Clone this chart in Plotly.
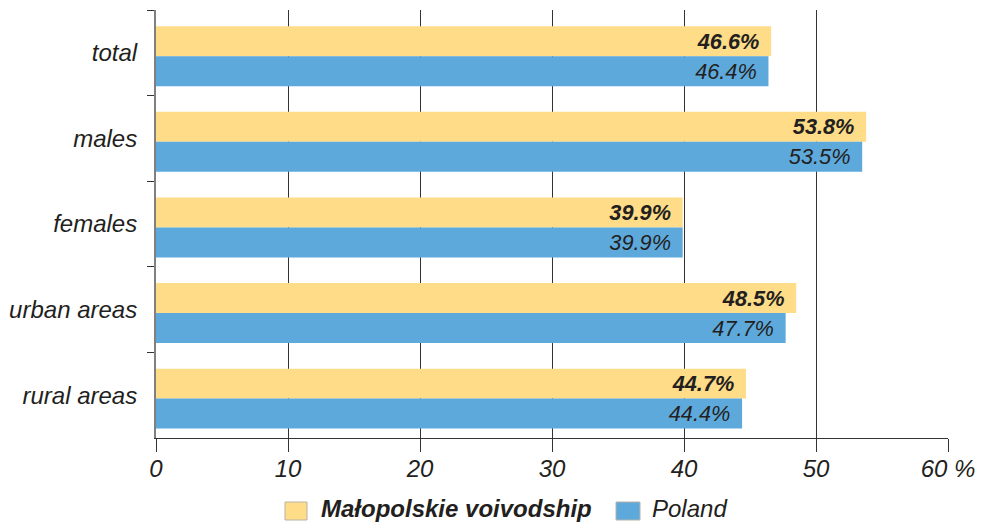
import plotly.graph_objects as go

categories = ["total", "males", "females", "urban areas", "rural areas"]
malopolskie = [46.6, 53.8, 39.9, 48.5, 44.7]
poland = [46.4, 53.5, 39.9, 47.7, 44.4]
x_ticks = [0, 10, 20, 30, 40, 50, 60]
x_ticklabels = ["0", "10", "20", "30", "40", "50", "60 %"]
series_names = ["Małopolskie voivodship", "Poland"]

FONT = "Liberation Sans, Arial, Helvetica, sans-serif"
YELLOW = "#FEDC88"
BLUE = "#5DA9DC"
TXT = "#231F20"
PAD = "\u2009\u2009"

# plot area in pixels (for legend placement helpers)
L, R, T, B = 156, 948, 10, 438


def px_x(px):
    return (px - L) / (R - L)


def px_y(py):
    return (B - py) / (B - T)


BW = 0.35     # bar thickness in category units
SHIFT = 0.04  # bars sit slightly below band centre in the reference

fig = go.Figure()
fig.add_trace(go.Bar(
    y=categories, x=malopolskie, orientation="h",
    name=series_names[0], width=BW, offset=-BW + SHIFT,
    marker=dict(color=YELLOW, line=dict(width=0)),
    text=[f"{v:.1f}%{PAD}" for v in malopolskie],
    textposition="inside", insidetextanchor="end",
    textfont=dict(family=FONT, size=24.5, color=TXT, style="italic", weight="bold"),
    cliponaxis=False,
))
fig.add_trace(go.Bar(
    y=categories, x=poland, orientation="h",
    name=series_names[1], width=BW, offset=SHIFT,
    marker=dict(color=BLUE, line=dict(width=0)),
    text=[f"{v:.1f}%{PAD}" for v in poland],
    textposition="inside", insidetextanchor="end",
    textfont=dict(family=FONT, size=24.5, color=TXT, style="italic"),
    cliponaxis=False,
))

# custom legend (larger swatches, as in the reference)
legend_items = [
    (285, 307, 320, YELLOW, f"<b><i>{series_names[0]}</i></b>"),
    (616, 640, 651, BLUE, f"<i>{series_names[1]}</i>"),
]
for x0, x1, xt, col, label in legend_items:
    fig.add_shape(type="rect", xref="paper", yref="paper",
                  x0=px_x(x0), x1=px_x(x1), y0=px_y(520), y1=px_y(502),
                  fillcolor=col, line=dict(color="#B8B2A8", width=1))
    fig.add_annotation(xref="paper", yref="paper", x=px_x(xt), y=px_y(509),
                       xanchor="left", yanchor="middle", showarrow=False,
                       borderpad=0,
                       text=label, font=dict(family=FONT, size=24, color=TXT))

fig.update_layout(
    width=998, height=523,
    margin=dict(l=L, r=998 - R, t=T, b=523 - B, autoexpand=False),
    paper_bgcolor="white", plot_bgcolor="white",
    barmode="group",
    font=dict(family=FONT, size=24, color=TXT),
    showlegend=False,
)
fig.update_xaxes(
    range=[0, 60], tickvals=x_ticks, ticktext=x_ticklabels,
    showgrid=True, gridcolor="#333333", gridwidth=1,
    showline=True, linecolor="#333333", linewidth=1,
    ticks="outside", ticklen=13, tickcolor="#333333",
    tickfont=dict(family=FONT, size=24, color=TXT, style="italic"),
    ticklabelstandoff=-4,
    zeroline=False, layer="below traces", automargin=False,
)
fig.update_yaxes(
    autorange="reversed", type="category",
    tickson="boundaries", ticks="outside", ticklen=7, tickcolor="#333333",
    showgrid=False, showline=True, linecolor="#808080", linewidth=2,
    tickfont=dict(family=FONT, size=24, color=TXT, style="italic"),
    ticklabelstandoff=12, automargin=False,
)

fig.write_html(
    "out.html",
    config={"displayModeBar": False},
    post_script="document.body.style.margin='0';document.body.style.overflow='hidden';",
)
